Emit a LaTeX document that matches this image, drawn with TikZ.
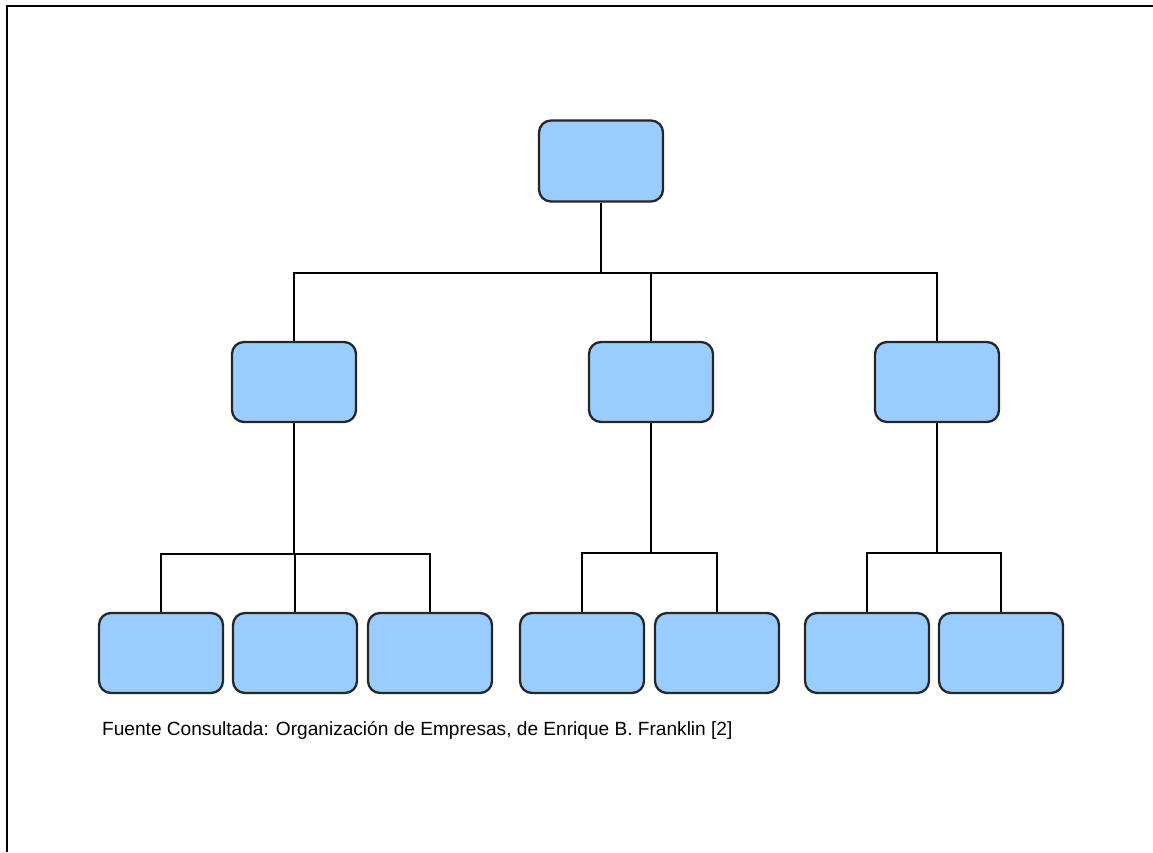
\documentclass[tikz,border=0pt]{standalone}
\usepackage{fontspec}
\setmainfont{Liberation Sans}
\begin{document}
\begin{tikzpicture}[x=1pt,y=-1pt,
  orgbox/.style={draw=black!85, line width=2.3pt, fill=boxblue, rounded corners=12pt,
    minimum width=124pt, minimum height=80pt, inner sep=0pt},
  link/.style={draw=black, line width=2pt}]
\definecolor{boxblue}{HTML}{99CCFF}
\useasboundingbox (0,0) rectangle (1153,852);
% frame
\draw[line width=2.6pt] (7,852) -- (7,6) -- (1153,6);
% level 1
\node[orgbox, minimum height=81pt] (top) at (601,161) {};
% level 2
\node[orgbox] (ma) at (294,382) {};
\node[orgbox] (mb) at (651,382) {};
\node[orgbox] (mc) at (937,382) {};
% level 3
\node[orgbox] (la) at (161,653) {};
\node[orgbox] (lb) at (295,653) {};
\node[orgbox] (lc) at (430,653) {};
\node[orgbox] (ld) at (582,653) {};
\node[orgbox] (le) at (717,653) {};
\node[orgbox] (lf) at (867,653) {};
\node[orgbox] (lg) at (1001,653) {};
% junction coordinates
\coordinate (j0) at (601,273);
\coordinate (ja) at (294,554);
\coordinate (jb) at (651,553);
\coordinate (jc) at (937,553);
% connectors
\draw[link] (top.south) -- (j0);
\draw[link] (ma.north) |- (j0);
\draw[link] (mb.north) |- (j0);
\draw[link] (mc.north) |- (j0);
\draw[link] (ma.south) -- (ja);
\draw[link] (la.north) |- (ja);
\draw[link] (lb.north) |- (ja);
\draw[link] (lc.north) |- (ja);
\draw[link] (mb.south) -- (jb);
\draw[link] (ld.north) |- (jb);
\draw[link] (le.north) |- (jb);
\draw[link] (mc.south) -- (jc);
\draw[link] (lf.north) |- (jc);
\draw[link] (lg.north) |- (jc);
% caption
\node[anchor=west, inner sep=0pt, font=\fontsize{19.1}{22}\selectfont] (cap) at (102,730)
  {Fuente Consultada: Organización de Empresas, de Enrique B. Franklin [2]};
\end{tikzpicture}
\end{document}
